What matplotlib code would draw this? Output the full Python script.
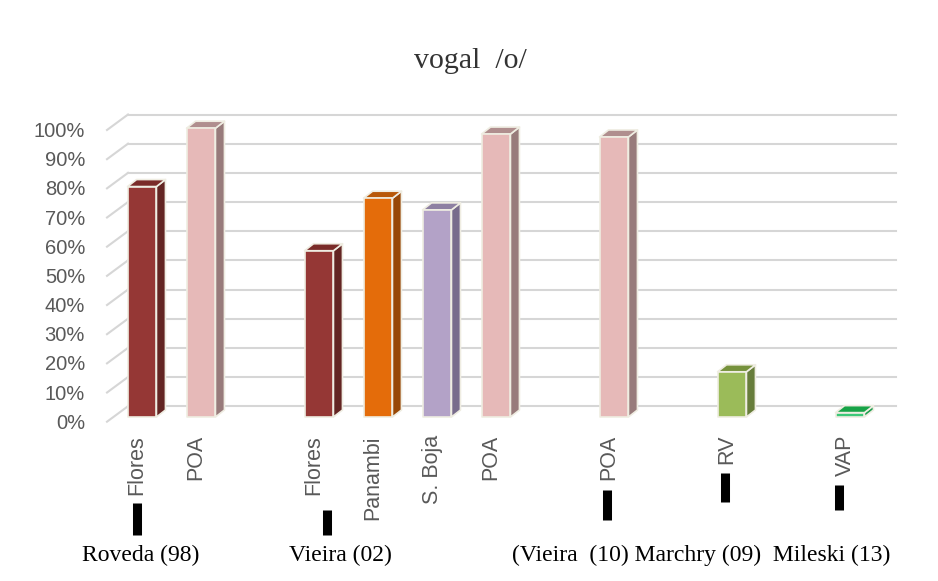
import numpy as np
import matplotlib.pyplot as plt
from matplotlib.patches import Polygon

# dados
labels = ['Flores', 'POA', 'Flores', 'Panambi', 'S. Boja', 'POA', 'POA', 'RV', 'VAP']
values = [79, 99, 57, 75, 71, 97, 96, 15.5, 1.5]
slots = [0, 1, 3, 4, 5, 6, 8, 10, 12]
front_colors = ['#953735', '#E6B9B8', '#953735', '#E46C0A', '#B3A2C7', '#E6B9B8', '#E6B9B8', '#9BBB59', '#3CC878']
side_colors = ['#632523', '#987B7B', '#632523', '#984807', '#786C8C', '#987B7B', '#987B7B', '#677D3B', '#1E9E4E']
top_colors = ['#7A2B29', '#B08E8E', '#7A2B29', '#B85808', '#8E80A2', '#B08E8E', '#B08E8E', '#76923C', '#17A347']
ticks = np.arange(0, 101, 10)
tick_labels = [f'{t}%' for t in ticks]
studies = ['Roveda (98)', 'Vieira (02)', '(Vieira  (10) Marchry (09)  Mileski (13)']
title = 'vogal  /o/'

W, H = 938, 581
fig = plt.figure(figsize=(W / 100, H / 100), dpi=100)

# plano frontal das barras em pixels
px_x = 59.0     # px por categoria
px_y = 2.917    # px por %
x0, x1 = -0.593, 12.42
ax = fig.add_axes([(142 + x0 * px_x) / W, 1 - 417 / H,
                   (x1 - x0) * px_x / W, 100 * px_y / H])
ax.set_xlim(x0, x1)
ax.set_ylim(0, 100)
ax.axis('off')


def dx(p):
    return p / px_x


def dy(p):
    return p / px_y


# chao frontal e parede de fundo
front = (dx(0), dy(-4.7))
depth = (dx(21), dy(15.5))
grid_c = '#D6D6D6'
for t, lab in zip(ticks, tick_labels):
    yf = t + front[1]
    yb = yf + depth[1]
    ax.plot([x0, x0 + depth[0]], [yf, yb], color=grid_c, lw=1.5, clip_on=False, zorder=1)
    ax.plot([x0 + depth[0], x1 + depth[0]], [yb, yb], color=grid_c, lw=1.5, clip_on=False, zorder=1)
    ax.text(x0 - dx(22), yf - dy(1.5), lab, ha='right', va='center', fontsize=14.5,
            color='#595959', family='Liberation Sans')

# barras 3D
w = 0.49
bd = (dx(9), dy(7))
edge = '#EFEDE2'
for s, v, fc, sc, tc in zip(slots, values, front_colors, side_colors, top_colors):
    l, r = s - w / 2, s + w / 2
    side = [(r, 0), (r + bd[0], bd[1]), (r + bd[0], v + bd[1]), (r, v)]
    top = [(l, v), (r, v), (r + bd[0], v + bd[1]), (l + bd[0], v + bd[1])]
    frnt = [(l, 0), (r, 0), (r, v), (l, v)]
    for pts, c in ((side, sc), (top, tc), (frnt, fc)):
        ax.add_patch(Polygon(pts, closed=True, facecolor=c, edgecolor=edge,
                             lw=1.2, joinstyle='round', clip_on=False, zorder=3))

# rotulos das categorias
for s, lab in zip(slots, labels):
    ax.text(s - dx(5), -dy(435 - 417), lab, rotation=90, ha='center', va='top',
            fontsize=15.5, color='#595959', family='Liberation Sans', clip_on=False)

# marcas pretas abaixo dos rotulos
marks = [(0, -5, 503, 535), (3, 8, 510, 535), (8, -7, 490, 520), (10, -7, 473, 502), (12, -11, 485, 510)]
for s, off, ya, yb in marks:
    ax.plot([s + dx(off)] * 2, [-dy(ya - 417), -dy(yb - 417)], color='black', lw=6.5,
            solid_capstyle='butt', clip_on=False)

# nomes dos estudos
for x, txt in zip([82, 289, 512], studies):
    fig.text(x / W, 1 - 561 / H, txt, ha='left', va='baseline', fontsize=17,
             family='Liberation Serif', color='black')

fig.text(470 / W, 1 - 68 / H, title, ha='center', va='baseline', fontsize=21.5,
         family='Liberation Serif', color='#333333')

fig.savefig('out.png', dpi=100, facecolor='white')
